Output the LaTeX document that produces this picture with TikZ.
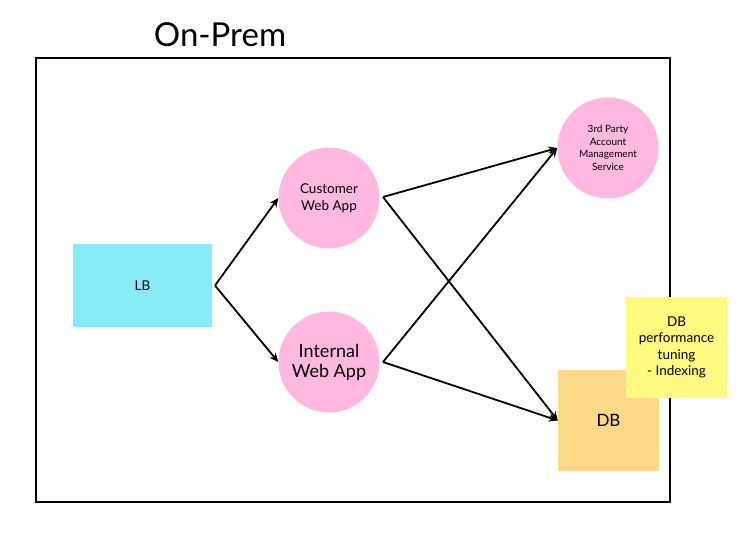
\documentclass[tikz,border=0pt]{standalone}
\usepackage{fontspec}
\setmainfont{Lato}
\usetikzlibrary{arrows.meta}
\definecolor{pinkc}{HTML}{FFB8E0}
\definecolor{cyanc}{HTML}{88EBFA}
\definecolor{dbc}{HTML}{FFD98A}
\definecolor{notec}{HTML}{FFFA80}
\tikzset{
  appc/.style={circle,fill=pinkc,minimum size=101pt,inner sep=0pt,align=center},
  boxc/.style={rectangle,inner sep=0pt,align=center},
  conn/.style={line width=1.8pt,-{Stealth[length=9pt,width=8pt]}},
}
\begin{document}
\begin{tikzpicture}[x=1pt,y=-1pt]
\useasboundingbox (0,0) rectangle (741,548);
\node[anchor=base,font=\fontsize{33}{36}\selectfont] (title) at (220,47) {On-Prem};
\node[boxc,draw=black,line width=1.8pt,minimum width=634pt,minimum height=444pt] (frame) at (353,280) {};
\node[boxc,fill=cyanc,minimum width=139pt,minimum height=83pt,font=\fontsize{13.5}{15}\selectfont] (lb) at (142.5,285.5) {LB};
\node[appc,font=\fontsize{13.5}{17}\selectfont] (cust) at (329,198) {Customer\\Web App};
\node[appc,font=\fontsize{18}{20}\selectfont] (int) at (329,362) {Internal\\Web App};
\node[appc,font=\fontsize{10}{12.5}\selectfont] (third) at (608,148) {3rd Party\\Account\\Management\\Service};
\node[boxc,fill=dbc,minimum width=101pt,minimum height=101pt,font=\fontsize{17}{19}\selectfont] (db) at (608.5,420.5) {DB};
\node[boxc,fill=notec,minimum width=101pt,minimum height=101pt,font=\fontsize{13.5}{16.5}\selectfont] (note) at (676.5,347.5) {DB\\performance\\tuning\\- Indexing};
\coordinate (lbo) at (215,285.5);
\coordinate (custo) at (383,197);
\coordinate (into) at (383,362);
\draw[conn] (lbo) -- (cust.west);
\draw[conn] (lbo) -- (int.west);
\draw[conn] (custo) -- (third.west);
\draw[conn] (custo) -- (db.west);
\draw[conn] (into) -- (third.west);
\draw[conn] (into) -- (db.west);
\end{tikzpicture}
\end{document}
